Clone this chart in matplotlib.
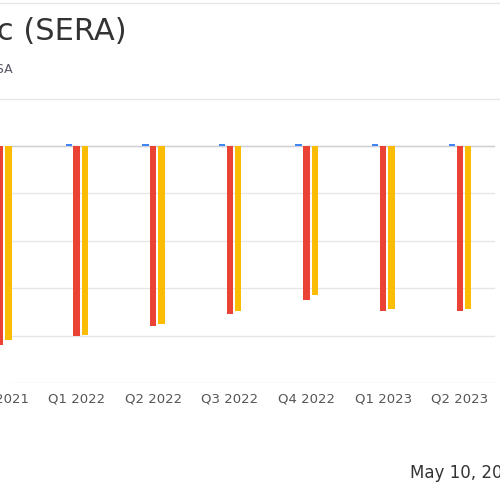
import matplotlib
matplotlib.use("Agg")
import matplotlib.pyplot as plt
import numpy as np

quarters = ["Q4 2021", "Q1 2022", "Q2 2022", "Q3 2022", "Q4 2022", "Q1 2023", "Q2 2023"]
revenue = [0.004, 0.004, 0.004, 0.004, 0.004, 0.004, 0.004]
eps_actual = [-0.42, -0.40, -0.38, -0.354, -0.324, -0.349, -0.349]
eps_estimate = [-0.41, -0.398, -0.375, -0.349, -0.314, -0.343, -0.343]

fig = plt.figure(figsize=(5, 5), dpi=100)
W = 500
ax = fig.add_axes([0, 1 - 383 / 500, 1, (383 - 120) / 500])
x = np.arange(len(quarters))
ppu = 78.0
xmin = 9 / ppu
ax.set_xlim(xmin, xmin + W / ppu)
ax.set_ylim(-0.5, 26 / 47.5 * 0.1)
for g in [0, -0.1, -0.2, -0.3, -0.4, -0.5]:
    ax.axhline(g, xmin=0.022, xmax=0.987, color="#e6e6e6", lw=1, zorder=0)
bw = 6.5 / ppu
ax.bar(x - 8 / ppu, revenue, width=bw, color="#4285f4", zorder=2)
ax.bar(x + 0 / ppu, eps_actual, width=bw, color="#ea4335", zorder=2)
ax.bar(x + 8.5 / ppu, eps_estimate, width=bw, color="#fbbc05", zorder=2)
ax.axhline(0, xmin=0.022, xmax=0.987, color="#cfcfd6", lw=1, zorder=1)
for s in ax.spines.values():
    s.set_visible(False)
ax.set_yticks([])
ax.set_xticks(x)
ax.set_xticklabels(quarters, fontsize=9.5, color="#555555")
ax.tick_params(axis="x", length=0, pad=7)

fig.text(127 / W, 1 - 31 / 500, "Serina Therapeutics Inc (SERA)", ha="right", va="center",
         fontsize=22, color="#333333")
fig.text(13 / W, 1 - 69 / 500, "Quarterly EPS vs Estimate, USA", ha="right", va="center",
         fontsize=9, color="#555566")
fig.add_artist(plt.Line2D([0, 1], [1 - 3 / 500] * 2, color="#e6e6e6", lw=1))
fig.add_artist(plt.Line2D([0, 1], [1 - 99 / 500] * 2, color="#e6e6e6", lw=1))
fig.text(410 / W, 1 - 473 / 500, "May 10, 2024", ha="left", va="center", fontsize=12, color="#333333")
fig.savefig("out.png", dpi=100)
